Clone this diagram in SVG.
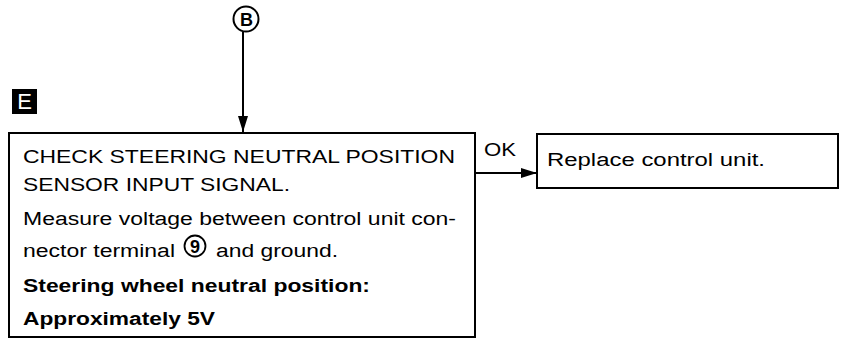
<svg xmlns="http://www.w3.org/2000/svg" width="847" height="341" viewBox="0 0 847 341">
<style>
.box{fill:#fff;stroke:#000;stroke-width:2}
.ln{fill:none;stroke:#000;stroke-width:2}
.t{font-family:"Liberation Sans",Arial,sans-serif;font-size:18px;fill:#000}
.b{font-weight:bold}
</style>
<defs>
<marker id="ah" markerWidth="16" markerHeight="10" refX="16" refY="5" orient="auto" markerUnits="userSpaceOnUse">
<path d="M0,0 L16,5 L0,10 Z" fill="#000"/>
</marker>
</defs>
<rect width="847" height="341" fill="#fff"/>
<g id="connectors">
<line class="ln" x1="243" y1="32" x2="243" y2="132" marker-end="url(#ah)"/>
<line class="ln" x1="475" y1="173" x2="537" y2="173" marker-end="url(#ah)"/>
<text class="t" x="484" y="156" textLength="32" lengthAdjust="spacingAndGlyphs">OK</text>
</g>
<g id="nodeB">
<circle cx="246" cy="19" r="12.5" fill="#fff" stroke="#000" stroke-width="2"/>
<text class="t b" x="246.5" y="25.5" text-anchor="middle" style="font-size:18px">B</text>
</g>
<g id="labelE">
<rect x="12" y="89" width="25" height="25" fill="#000"/>
<text x="24.5" y="109" text-anchor="middle" font-family="Liberation Sans,Arial,sans-serif" font-size="22" fill="#fff">E</text>
</g>
<g id="check">
<rect class="box" x="9" y="133" width="466" height="204"/>
<text class="t" x="23" y="163" textLength="432" lengthAdjust="spacingAndGlyphs">CHECK STEERING NEUTRAL POSITION</text>
<text class="t" x="23" y="191" textLength="267" lengthAdjust="spacingAndGlyphs">SENSOR INPUT SIGNAL.</text>
<text class="t" x="23" y="225" textLength="433" lengthAdjust="spacingAndGlyphs">Measure voltage between control unit con-</text>
<text class="t" x="23" y="257" textLength="152" lengthAdjust="spacingAndGlyphs">nector terminal</text>
<circle cx="195" cy="246" r="10.5" fill="none" stroke="#000" stroke-width="1.8"/>
<text class="t b" x="195" y="252.5" text-anchor="middle" style="font-size:18px">9</text>
<text class="t" x="216" y="257" textLength="122" lengthAdjust="spacingAndGlyphs">and ground.</text>
<text class="t b" x="23" y="292" textLength="347" lengthAdjust="spacingAndGlyphs">Steering wheel neutral position:</text>
<text class="t b" x="23" y="325" textLength="192" lengthAdjust="spacingAndGlyphs">Approximately 5V</text>
</g>
<g id="replace">
<rect class="box" x="537" y="134" width="301" height="54"/>
<text class="t" x="547" y="166" textLength="218" lengthAdjust="spacingAndGlyphs">Replace control unit.</text>
</g>
</svg>
